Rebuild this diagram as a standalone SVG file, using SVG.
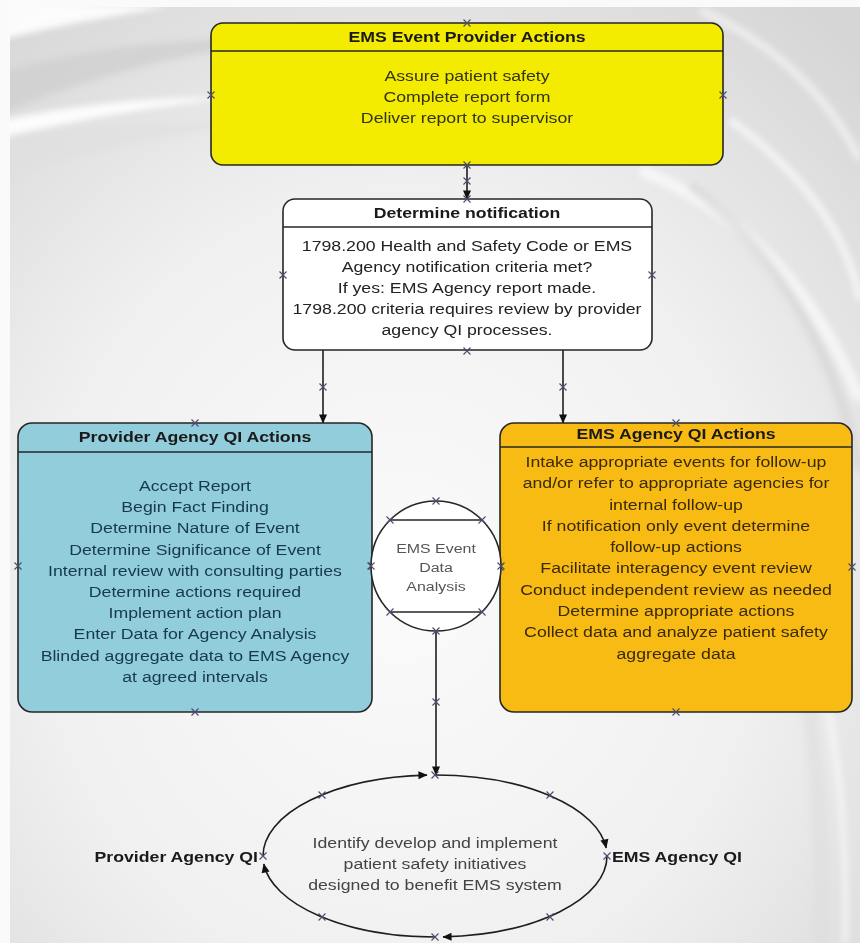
<svg xmlns="http://www.w3.org/2000/svg" width="860" height="943" viewBox="0 0 860 943">
<style>
.box{stroke:#262626;stroke-width:1.6}
.hdr{stroke:#262626;stroke-width:1.4}
.t{font-family:"Liberation Sans",Arial,sans-serif;font-size:15px;text-anchor:middle}
.b{font-weight:bold;fill:#1a1a1a}
.conn{fill:none;stroke:#1e1e1e;stroke-width:1.6}
.mk{fill:none;stroke:#4b4b6b;stroke-width:1.1}
</style>
<defs>
<radialGradient id="bg" cx="0.46" cy="0.62" r="0.78">
<stop offset="0" stop-color="#fbfbfb"/>
<stop offset="0.55" stop-color="#f0f0f0"/>
<stop offset="1" stop-color="#d6d6d6"/>
</radialGradient>
<filter id="soft" x="-10%" y="-10%" width="120%" height="120%">
<feGaussianBlur stdDeviation="3"/>
</filter>
<clipPath id="bgclip"><rect x="10" y="7" width="850" height="936"/></clipPath>
<marker id="arr" viewBox="0 0 10 10" refX="9.5" refY="5" markerWidth="10" markerHeight="9" markerUnits="userSpaceOnUse" orient="auto">
<path d="M0,0.5 L10,5 L0,9.5 Z" fill="#111"/>
</marker>
<g id="x"><path class="mk" d="M-3.5,-3.5 L3.5,3.5 M-3.5,3.5 L3.5,-3.5"/></g>
</defs>

<g id="background">
<rect x="0" y="0" width="860" height="943" fill="#fafafa"/>
<rect x="10" y="7" width="850" height="936" fill="url(#bg)"/>
<g clip-path="url(#bgclip)">
<g filter="url(#soft)">
<path d="M0,72 Q110,40 260,38 L300,40 Q150,52 0,114 Z" fill="#d0d0d0" opacity="0.8"/>
<path d="M0,120 Q120,96 230,98 Q120,110 0,138 Z" fill="#ffffff" opacity="0.9"/>
<path d="M0,142 Q130,120 240,125 Q120,140 0,180 Z" fill="#e0e0e0" opacity="0.7"/>
<path d="M0,0 L170,7 Q80,20 0,40 Z" fill="#ffffff" opacity="0.9"/>
<path d="M640,170 Q790,230 860,400" fill="none" stroke="#ffffff" stroke-width="12" opacity="0.6"/>
<path d="M690,185 Q820,285 860,470" fill="none" stroke="#d0d0d0" stroke-width="10" opacity="0.5"/>
<path d="M730,120 Q840,200 860,300" fill="none" stroke="#ffffff" stroke-width="8" opacity="0.6"/>
<path d="M700,10 Q810,60 860,160" fill="none" stroke="#ffffff" stroke-width="8" opacity="0.5"/>
<path d="M760,520 Q830,700 820,943" fill="none" stroke="#dcdcdc" stroke-width="14" opacity="0.5"/>
<path d="M800,600 Q850,750 845,943" fill="none" stroke="#ffffff" stroke-width="7" opacity="0.5"/>
</g>
</g>
</g>

<g id="connectors">
<path class="conn" d="M467,165 V199" marker-end="url(#arr)"/>
<path class="conn" d="M323,350 V423" marker-end="url(#arr)"/>
<path class="conn" d="M563,350 V423" marker-end="url(#arr)"/>
<path class="conn" d="M436,631 V775" marker-end="url(#arr)"/>
<path class="conn" d="M263,856 A172,81 0 0 1 427,775.1" marker-end="url(#arr)"/>
<path class="conn" d="M435,775 A172,81 0 0 1 606.2,848" marker-end="url(#arr)"/>
<path class="conn" d="M607,856 A172,81 0 0 1 443,936.9" marker-end="url(#arr)"/>
<path class="conn" d="M435,937 A172,81 0 0 1 263.8,864" marker-end="url(#arr)"/>
<use href="#x" x="467" y="181"/>
<use href="#x" x="323" y="387"/>
<use href="#x" x="563" y="387"/>
<use href="#x" x="436" y="702"/>
<use href="#x" x="435" y="775"/>
<use href="#x" x="322" y="795"/>
<use href="#x" x="550" y="795"/>
<use href="#x" x="263" y="856"/>
<use href="#x" x="607" y="856"/>
<use href="#x" x="322" y="917"/>
<use href="#x" x="550" y="917"/>
<use href="#x" x="435" y="937"/>
</g>

<g id="provider-actions">
<rect class="box" x="211" y="23" width="512" height="142" rx="12" fill="#f3eb00"/>
<line class="hdr" x1="211" y1="51" x2="723" y2="51"/>
<g transform="translate(467,0) scale(1.18,1)">
<text class="t b" x="0" y="42.5">EMS Event Provider Actions</text>
<text class="t" x="0" y="81" fill="#333318">Assure patient safety</text>
<text class="t" x="0" y="102" fill="#333318">Complete report form</text>
<text class="t" x="0" y="123" fill="#333318">Deliver report to supervisor</text>
</g>
<use href="#x" x="467" y="23"/>
<use href="#x" x="211" y="95"/>
<use href="#x" x="723" y="95"/>
<use href="#x" x="467" y="165"/>
</g>

<g id="determine-notification">
<rect class="box" x="283" y="199" width="369" height="151" rx="12" fill="#ffffff"/>
<line class="hdr" x1="283" y1="227" x2="652" y2="227"/>
<g transform="translate(467,0) scale(1.18,1)">
<text class="t b" x="0" y="218.5">Determine notification</text>
<text class="t" x="0" y="251" fill="#222">1798.200 Health and Safety Code or EMS</text>
<text class="t" x="0" y="272" fill="#222">Agency notification criteria met?</text>
<text class="t" x="0" y="293" fill="#222">If yes: EMS Agency report made.</text>
<text class="t" x="0" y="314" fill="#222">1798.200 criteria requires review by provider</text>
<text class="t" x="0" y="335" fill="#222">agency QI processes.</text>
</g>
<use href="#x" x="467" y="199"/>
<use href="#x" x="283" y="275"/>
<use href="#x" x="652" y="275"/>
<use href="#x" x="467" y="351"/>
</g>

<g id="provider-qi-actions">
<rect class="box" x="18" y="423" width="354" height="289" rx="14" fill="#92cddc"/>
<line class="hdr" x1="18" y1="452" x2="372" y2="452"/>
<g transform="translate(195,0) scale(1.18,1)" fill="#163a4a">
<text class="t b" x="0" y="442.5">Provider Agency QI Actions</text>
<text class="t" x="0" y="491">Accept Report</text>
<text class="t" x="0" y="512.2">Begin Fact Finding</text>
<text class="t" x="0" y="533.4">Determine Nature of Event</text>
<text class="t" x="0" y="554.6">Determine Significance of Event</text>
<text class="t" x="0" y="575.8">Internal review with consulting parties</text>
<text class="t" x="0" y="597">Determine actions required</text>
<text class="t" x="0" y="618.2">Implement action plan</text>
<text class="t" x="0" y="639.4">Enter Data for Agency Analysis</text>
<text class="t" x="0" y="660.6">Blinded aggregate data to EMS Agency</text>
<text class="t" x="0" y="681.8">at agreed intervals</text>
</g>
<use href="#x" x="195" y="423"/>
<use href="#x" x="18" y="566"/>
<use href="#x" x="372" y="566"/>
<use href="#x" x="195" y="712"/>
</g>

<g id="ems-qi-actions">
<rect class="box" x="500" y="423" width="352" height="289" rx="14" fill="#f8bb14"/>
<line class="hdr" x1="500" y1="447" x2="852" y2="447"/>
<g transform="translate(676,0) scale(1.18,1)" fill="#3a2a06">
<text class="t b" x="0" y="439.5">EMS Agency QI Actions</text>
<text class="t" x="0" y="467">Intake appropriate events for follow-up</text>
<text class="t" x="0" y="488.3">and/or refer to appropriate agencies for</text>
<text class="t" x="0" y="509.6">internal follow-up</text>
<text class="t" x="0" y="530.9">If notification only event determine</text>
<text class="t" x="0" y="552.2">follow-up actions</text>
<text class="t" x="0" y="573.5">Facilitate interagency event review</text>
<text class="t" x="0" y="594.8">Conduct independent review as needed</text>
<text class="t" x="0" y="616.1">Determine appropriate actions</text>
<text class="t" x="0" y="637.4">Collect data and analyze patient safety</text>
<text class="t" x="0" y="658.7">aggregate data</text>
</g>
<use href="#x" x="676" y="423"/>
<use href="#x" x="500" y="567"/>
<use href="#x" x="852" y="567"/>
<use href="#x" x="676" y="712"/>
</g>

<g id="data-analysis">
<circle class="box" cx="436" cy="566" r="65" fill="#ffffff"/>
<line class="hdr" x1="390" y1="520" x2="482" y2="520"/>
<line class="hdr" x1="390" y1="612" x2="482" y2="612"/>
<g transform="translate(436,0) scale(1.18,1)" fill="#555">
<text class="t" x="0" y="553" style="font-size:13.5px">EMS Event</text>
<text class="t" x="0" y="572" style="font-size:13.5px">Data</text>
<text class="t" x="0" y="591" style="font-size:13.5px">Analysis</text>
</g>
<use href="#x" x="436" y="501"/>
<use href="#x" x="390" y="520"/>
<use href="#x" x="482" y="520"/>
<use href="#x" x="371" y="566"/>
<use href="#x" x="501" y="566"/>
<use href="#x" x="390" y="612"/>
<use href="#x" x="482" y="612"/>
<use href="#x" x="436" y="631"/>
</g>

<g id="safety-initiatives">
<g transform="translate(435,0) scale(1.18,1)" fill="#444">
<text class="t" x="0" y="848">Identify develop and implement</text>
<text class="t" x="0" y="869">patient safety initiatives</text>
<text class="t" x="0" y="890">designed to benefit EMS system</text>
</g>
</g>

<g id="provider-agency-qi">
<g transform="translate(258,0) scale(1.18,1)">
<text class="t b" x="0" y="862" style="text-anchor:end">Provider Agency QI</text>
</g>
</g>

<g id="ems-agency-qi">
<g transform="translate(612,0) scale(1.18,1)">
<text class="t b" x="0" y="862" style="text-anchor:start">EMS Agency QI</text>
</g>
</g>
</svg>
